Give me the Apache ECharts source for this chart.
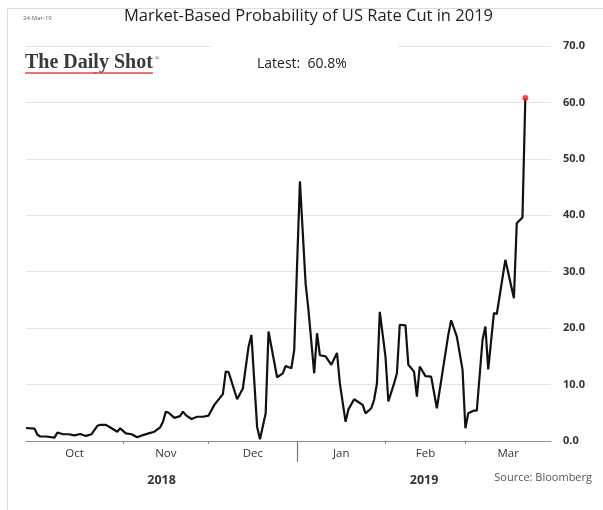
<!DOCTYPE html>
<html>
<head>
<meta charset="utf-8">
<script src="https://cdn.jsdelivr.net/npm/echarts@6/dist/echarts.min.js"></script>
<style>
    html, body { margin: 0; padding: 0; background: #fff; }
    #chart { width: 603px; height: 510px; }
</style>
</head>
<body>
<div id="chart"></div>
<script>
// probability of a US rate cut in 2019 (%)
const dates = [
    '2018-09-28', '2018-10-01', '2018-10-02', '2018-10-03', '2018-10-05', '2018-10-08', '2018-10-09',
    '2018-10-11', '2018-10-13', '2018-10-15', '2018-10-17', '2018-10-19', '2018-10-21', '2018-10-23',
    '2018-10-24', '2018-10-26', '2018-10-28', '2018-10-30', '2018-10-31', '2018-11-02', '2018-11-04',
    '2018-11-06', '2018-11-08', '2018-11-10', '2018-11-12', '2018-11-14', '2018-11-15', '2018-11-16',
    '2018-11-17', '2018-11-19', '2018-11-21', '2018-11-22', '2018-11-23', '2018-11-25', '2018-11-27',
    '2018-11-29', '2018-12-01', '2018-12-03', '2018-12-06', '2018-12-07', '2018-12-08', '2018-12-11',
    '2018-12-13', '2018-12-15', '2018-12-16', '2018-12-18', '2018-12-19', '2018-12-21', '2018-12-22',
    '2018-12-25', '2018-12-27', '2018-12-28', '2018-12-30', '2018-12-31', '2019-01-02', '2019-01-04',
    '2019-01-05', '2019-01-07', '2019-01-08', '2019-01-09', '2019-01-11', '2019-01-13', '2019-01-15',
    '2019-01-16', '2019-01-18', '2019-01-19', '2019-01-21', '2019-01-24', '2019-01-25', '2019-01-27',
    '2019-01-28', '2019-01-29', '2019-01-30', '2019-02-01', '2019-02-02', '2019-02-04', '2019-02-05',
    '2019-02-06', '2019-02-08', '2019-02-09', '2019-02-11', '2019-02-12', '2019-02-13', '2019-02-15',
    '2019-02-17', '2019-02-19', '2019-02-21', '2019-02-23', '2019-02-24', '2019-02-26', '2019-02-28',
    '2019-03-01', '2019-03-02', '2019-03-04', '2019-03-05', '2019-03-07', '2019-03-08', '2019-03-09',
    '2019-03-11', '2019-03-12', '2019-03-15', '2019-03-18', '2019-03-19', '2019-03-21', '2019-03-22'
]
const values = [
    2.3, 2.2, 1.1, 0.8, 0.8, 0.6, 1.5,
    1.2, 1.2, 1.0, 1.25, 0.9, 1.2, 2.7,
    2.85, 2.85, 2.25, 1.65, 2.25, 1.35, 1.2,
    0.65, 1.05, 1.35, 1.65, 2.4, 3.4, 5.2,
    5.0, 4.1, 4.4, 5.2, 4.6, 3.9, 4.3,
    4.3, 4.5, 6.4, 8.3, 12.3, 12.2, 7.4,
    9.3, 16.7, 18.8, 2.5, 0.3, 4.9, 19.4,
    11.3, 12.0, 13.3, 12.9, 16.1, 46.0, 27.9,
    23.2, 12.0, 19.1, 15.2, 15.0, 13.5, 15.6,
    10.2, 3.4, 5.6, 7.4, 6.4, 4.9, 5.8,
    7.3, 10.2, 22.9, 14.9, 7.0, 10.2, 12.0,
    20.6, 20.5, 13.5, 12.3, 7.85, 13.2, 11.5,
    11.4, 5.8, 12.3, 18.8, 21.4, 18.5, 12.6,
    2.25, 4.9, 5.4, 5.4, 17.9, 20.3, 12.7,
    22.7, 22.5, 32.1, 25.3, 38.6, 39.6, 60.8
]
const axisStart = '2018-09-28'
const axisEnd = '2019-03-31'
const monthStarts = ['2018-11-01', '2018-12-01', '2019-01-01', '2019-02-01', '2019-03-01']
const monthLabels = ['Oct', 'Nov', 'Dec', 'Jan', 'Feb', 'Mar']
const yearStarts = ['2019-01-01']
const yearLabels = ['2018', '2019']
const yTicks = [0, 10, 20, 30, 40, 50, 60, 70]

// days counted from the start of the axis
const DAY = 24 * 3600 * 1000
const ts = s => Math.round((Date.parse(s + 'T00:00:00Z') - Date.parse(axisStart + 'T00:00:00Z')) / DAY)
// label positions: middle of each month (or year) segment on the axis
const mids = (starts) => {
    const edges = [ts(axisStart), ...starts.map(ts), ts(axisEnd)]
    const out = []
    for (let i = 0; i < edges.length - 1; i++) out.push((edges[i] + edges[i + 1]) / 2)
    return out
}
const monthMids = mids(monthStarts)
const yearMids = mids(yearStarts)
const last = values[values.length - 1]

const chart = echarts.init(document.getElementById('chart'), null, { renderer: 'canvas' })
const font = 'Open Sans'
const option = {
    backgroundColor: '#fff',
    animation: false,
    grid: {
        left: 26,
        right: 52,
        top: 46,
        bottom: 69,
    },
    xAxis: [
        {
            type: 'value',
            min: ts(axisStart),
            max: ts(axisEnd),
            axisLine: { show: true, lineStyle: { color: '#8c8c8c', width: 1.2 } },
            axisTick: {
                show: true,
                customValues: monthStarts.map(ts),
                length: 3,
                lineStyle: { color: '#8c8c8c' },
            },
            axisLabel: {
                customValues: monthMids,
                margin: 7,
                fontFamily: font,
                fontSize: 11.5,
                color: '#333',
                formatter: function (value) {
                    const i = monthMids.indexOf(value)
                    return i >= 0 ? monthLabels[i] : ''
                },
            },
            splitLine: { show: false },
        },
        {
            type: 'value',
            min: ts(axisStart),
            max: ts(axisEnd),
            position: 'bottom',
            axisLine: { show: false },
            axisTick: {
                show: true,
                customValues: yearStarts.map(ts),
                length: 21,
                lineStyle: { color: '#777', width: 1.2 },
            },
            axisLabel: {
                customValues: yearMids,
                margin: 33,
                fontFamily: font,
                fontSize: 12.5,
                fontWeight: 'bold',
                color: '#333',
                formatter: function (value) {
                    const i = yearMids.indexOf(value)
                    return i >= 0 ? yearLabels[i] : ''
                },
            },
            splitLine: { show: false },
        },
    ],
    yAxis: {
        type: 'value',
        position: 'right',
        min: yTicks[0],
        max: yTicks[yTicks.length - 1],
        interval: 10,
        axisLine: { show: false },
        axisTick: { show: false },
        axisLabel: {
            margin: 12,
            fontFamily: font,
            fontSize: 11,
            fontWeight: 'bold',
            color: '#333',
            formatter: v => v.toFixed(1),
        },
        splitLine: { lineStyle: { color: '#e4e4e4', width: 1 } },
    },
    series: [
        {
            name: 'Probability',
            type: 'line',
            xAxisIndex: 0,
            showSymbol: false,
            data: dates.map((d, i) => [ts(d), values[i]]),
            lineStyle: { color: '#111', width: 2.2 },
            itemStyle: { color: '#111' },
            z: 3,
        },
        {
            name: 'Latest',
            type: 'scatter',
            xAxisIndex: 0,
            symbolSize: 6,
            data: [[ts(dates[dates.length - 1]), last]],
            itemStyle: { color: '#ff1a1a' },
            z: 4,
        },
    ],
    graphic: [
        {
            type: 'rect',
            z: 0,
            silent: true,
            shape: { x: 7.5, y: 8.5, width: 620, height: 520 },
            style: { fill: 'none', stroke: '#dcdcdc', lineWidth: 1 },
        },
        {
            type: 'rect',
            z: 50,
            silent: true,
            shape: { x: 211, y: 38, width: 187, height: 40 },
            style: { fill: '#fff' },
        },
        {
            type: 'text',
            z: 60,
            left: 23,
            top: 15,
            style: { text: '24-Mar-19', fontFamily: font, fontSize: 6, fill: '#666' },
        },
        {
            type: 'text',
            z: 60,
            left: 124,
            top: 8,
            style: {
                text: 'Market-Based Probability of US Rate Cut in 2019',
                fontFamily: font,
                fontSize: 16.5,
                fill: '#222',
            },
        },
        {
            type: 'text',
            z: 60,
            left: 25,
            top: 53,
            style: {
                text: 'The Daily Shot',
                fontFamily: 'Liberation Serif',
                fontSize: 20,
                fontWeight: 'bold',
                fill: '#3a3a3a',
            },
        },
        {
            type: 'text',
            z: 60,
            left: 155,
            top: 55,
            style: { text: '®', fontFamily: 'Liberation Serif', fontSize: 6, fill: '#3a3a3a' },
        },
        {
            type: 'line',
            z: 60,
            silent: true,
            shape: { x1: 25, y1: 73, x2: 97, y2: 73 },
            style: { stroke: '#e8474c', lineWidth: 1.5 },
        },
        {
            type: 'line',
            z: 60,
            silent: true,
            shape: { x1: 93, y1: 73, x2: 153, y2: 73 },
            style: { stroke: '#e8474c', lineWidth: 1.5 },
        },
        {
            type: 'text',
            z: 60,
            left: 257,
            top: 57,
            style: {
                text: 'Latest:  ' + last.toFixed(1) + '%',
                fontFamily: font,
                fontSize: 14,
                fill: '#222',
            },
        },
        {
            type: 'text',
            z: 60,
            right: 11,
            top: 472,
            style: { text: 'Source: Bloomberg', fontFamily: font, fontSize: 11, fill: '#555' },
        },
    ],
}
chart.setOption(option)
</script>
</body>
</html>
